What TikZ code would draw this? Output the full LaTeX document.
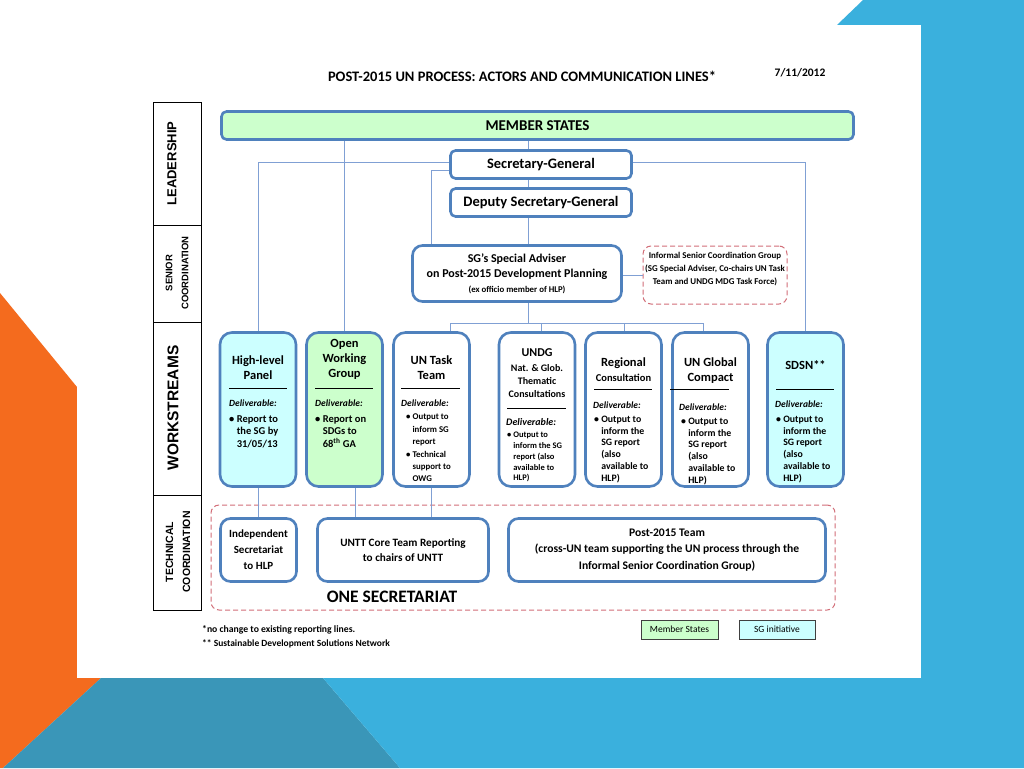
\documentclass[tikz,border=0pt]{standalone}
\usepackage{fontspec}
\setmainfont{Carlito}
\newfontfamily\sidefont{Liberation Sans}
\usetikzlibrary{positioning,calc}
\definecolor{unblue}{RGB}{79,129,189}
\definecolor{linkblue}{RGB}{128,160,212}
\definecolor{msgreen}{RGB}{204,255,204}
\definecolor{sgcyan}{RGB}{204,255,255}
\definecolor{groupred}{RGB}{210,110,120}
\definecolor{slideorange}{RGB}{244,107,30}
\definecolor{slideblue}{RGB}{58,176,221}
\definecolor{slideteal}{RGB}{58,150,184}
\newcommand{\fsz}[2]{\fontsize{#1}{#2}\selectfont}
\newcommand{\bgap}{\phantom{\textbullet\ }}

\begin{document}
\begin{tikzpicture}[x=1pt, y=-1pt,
  box/.style={draw=unblue, line width=2.6pt, fill=white, rounded corners=5pt, inner sep=0pt},
  wbox/.style={box, rounded corners=12pt, minimum width=76pt, minimum height=154pt},
  tbox/.style={box, rounded corners=10pt, minimum height=63pt, align=center},
  link/.style={draw=linkblue, line width=1pt},
  grp/.style={draw=groupred, line width=1pt, dash pattern=on 5pt off 3pt, rounded corners=8pt},
  rule/.style={draw=black, line width=0.8pt},
  hd/.style={font=\fsz{12.5}{15}\bfseries, align=center, inner sep=0pt},
  dlv/.style={font=\fsz{9.5}{11}\bfseries\itshape, anchor=west, inner sep=0pt},
  bul/.style={font=\fsz{10}{12}\bfseries, align=left, anchor=north west, inner sep=0pt},
  side/.style={rotate=90, align=center, inner sep=0pt}
]
  \useasboundingbox (0,0) rectangle (1024,768);

  % Slide background
  \fill[white] (0,0) rectangle (1024,768);
  \fill[slideorange] (0,293) -- (77,387) -- (101,678) -- (3,768) -- (0,768) -- cycle;
  \fill[slideteal] (101,678) -- (323,678) -- (400,768) -- (3,768) -- cycle;
  \fill[slideblue] (863,0) -- (1024,0) -- (1024,768) -- (400,768) -- (323,678) -- (837,25) -- cycle;
  \fill[white] (77,25) rectangle (921,678);

  % Title
  \node[font=\fsz{14.5}{17}\bfseries] (title) at (522,76) {POST-2015 UN PROCESS: ACTORS AND COMMUNICATION LINES*};
  \node[font=\fsz{11.5}{13}\bfseries] (date) at (800,73) {7/11/2012};

  % Side bar
  \draw[line width=1pt] (153,102) rectangle (201,610);
  \foreach \y in {225,322,495}
    \draw[line width=1pt] (153,\y) -- (201,\y);
  \node[side, font=\sidefont\fsz{13}{15}\bfseries] (lead) at (172,163.5) {LEADERSHIP};
  \node[side, font=\sidefont\fsz{9.5}{16}\bfseries] (senior) at (177,273) {SENIOR\\COORDINATION};
  \node[side, font=\sidefont\fsz{15.5}{18}\bfseries] (work) at (173,408) {WORKSTREAMS};
  \node[side, font=\sidefont\fsz{10.5}{17}\bfseries] (tech) at (178,552) {TECHNICAL\\COORDINATION};

  % Leadership
  \node[box, fill=msgreen, minimum width=632pt, minimum height=28pt, font=\fsz{15}{17}\bfseries] (ms) at (537.5,125.5) {MEMBER STATES};
  \node[box, minimum width=181pt, minimum height=28pt, font=\fsz{14.5}{17}\bfseries] (sg) at (541,164.5) {Secretary-General};
  \node[box, minimum width=181pt, minimum height=28pt, font=\fsz{14.5}{17}\bfseries] (dsg) at (541,202.5) {Deputy Secretary-General};

  % Senior coordination
  \node[box, rounded corners=10pt, minimum width=209pt, minimum height=56pt, align=center, font=\fsz{12}{15}\bfseries] (adv) at (517,273.5)
    {SG's Special Adviser\\on Post-2015 Development Planning\\\fsz{8.8}{15}\bfseries(ex officio member of HLP)};
  \node[grp, minimum width=144pt, minimum height=58pt] (isg) at (715,275) {};
  \node[font=\fsz{8.9}{12.7}\bfseries, align=center, inner sep=0pt] (isg-t) at (715,269)
    {Informal Senior Coordination Group\\(SG Special Adviser, Co-chairs UN Task\\Team and UNDG MDG Task Force)};

  % Workstreams
  \node[wbox, fill=sgcyan] (hlp) at (258,409.5) {};
  \node[wbox, fill=msgreen] (owg) at (344.5,409.5) {};
  \node[wbox] (untt) at (431.5,409.5) {};
  \node[wbox] (undg) at (537,409.5) {};
  \node[wbox] (reg) at (623.5,409.5) {};
  \node[wbox] (ugc) at (710.5,409.5) {};
  \node[wbox, fill=sgcyan] (sdsn) at (805.5,409.5) {};

  % High-level Panel
  \node[hd] (hlp-h) at (258,367.5) {High-level\\Panel};
  \draw[rule] (229,388) -- (287,388);
  \node[dlv] (hlp-d) at (229,403) {Deliverable:};
  \node[bul, font=\fsz{10.5}{12.5}\bfseries] (hlp-b) at (229,415) {\textbullet\ Report to\\\bgap the SG by\\\bgap 31/05/13};

  % Open Working Group
  \node[hd] (owg-h) at (344.5,359.5) {Open\\Working\\Group};
  \draw[rule] (315,388) -- (373,388);
  \node[dlv] (owg-d) at (315,403) {Deliverable:};
  \node[bul, font=\fsz{10.5}{12.5}\bfseries] (owg-b) at (315,415) {\textbullet\ Report on\\\bgap SDGs to\\\bgap 68\textsuperscript{th} GA};

  % UN Task Team
  \node[hd] (untt-h) at (431.5,367.5) {UN Task\\Team};
  \draw[rule] (401,388) -- (460,388);
  \node[dlv] (untt-d) at (401,403) {Deliverable:};
  \node[bul, font=\fsz{8.8}{12.4}\bfseries] (untt-b) at (406,414)
    {\textbullet\ Output to\\\bgap inform SG\\\bgap report\\\textbullet\ Technical\\\bgap support to\\\bgap OWG};

  % UNDG
  \node[hd, font=\fsz{12}{14}\bfseries] (undg-h) at (537,353) {UNDG};
  \node[hd, font=\fsz{10}{13}\bfseries] (undg-s) at (537,381) {Nat. \& Glob.\\Thematic\\Consultations};
  \draw[rule] (507,408) -- (566,408);
  \node[dlv, font=\fsz{10}{12}\bfseries\itshape] (undg-d) at (506,422) {Deliverable:};
  \node[bul, font=\fsz{8.5}{10.8}\bfseries] (undg-b) at (507,432)
    {\textbullet\ Output to\\\bgap inform the SG\\\bgap report (also\\\bgap available to\\\bgap HLP)};

  % Regional Consultation
  \node[hd] (reg-h) at (623.5,363) {Regional};
  \node[hd, font=\fsz{10.5}{12}\bfseries] (reg-s) at (623.5,378) {Consultation};
  \draw[rule] (594,389) -- (652,389);
  \node[dlv] (reg-d) at (593,405) {Deliverable:};
  \node[bul, font=\fsz{9.8}{11.8}\bfseries] (reg-b) at (594,415.6)
    {\textbullet\ Output to\\\bgap inform the\\\bgap SG report\\\bgap (also\\\bgap available to\\\bgap HLP)};

  % UN Global Compact
  \node[hd] (ugc-h) at (710.5,370.5) {UN Global\\Compact};
  \draw[rule] (670,389) -- (729,389);
  \node[dlv] (ugc-d) at (679,407) {Deliverable:};
  \node[bul, font=\fsz{9.8}{11.8}\bfseries] (ugc-b) at (681,417.6)
    {\textbullet\ Output to\\\bgap inform the\\\bgap SG report\\\bgap (also\\\bgap available to\\\bgap HLP)};

  % SDSN
  \node[hd] (sdsn-h) at (805.5,365) {SDSN**};
  \draw[rule] (776,389) -- (834,389);
  \node[dlv] (sdsn-d) at (775,404) {Deliverable:};
  \node[bul, font=\fsz{9.8}{11.8}\bfseries] (sdsn-b) at (776,415.6)
    {\textbullet\ Output to\\\bgap inform the\\\bgap SG report\\\bgap (also\\\bgap available to\\\bgap HLP)};

  % Technical coordination
  \node[grp, minimum width=624pt, minimum height=105pt] (onesec) at (523,557.5) {};
  \node[tbox, minimum width=76pt, font=\fsz{11}{16}\bfseries] (indsec) at (258.5,550) {Independent\\Secretariat\\to HLP};
  \node[tbox, minimum width=171pt, font=\fsz{11.2}{15}\bfseries] (core) at (403,550) {UNTT Core Team Reporting\\to chairs of UNTT};
  \node[tbox, minimum width=317pt, font=\fsz{11.6}{16.5}\bfseries] (post) at (667,550)
    {Post-2015 Team\\(cross-UN team supporting the UN process through the\\Informal Senior Coordination Group)};
  \node[font=\fsz{17.5}{20}\bfseries] (onesec-t) at (392,597) {ONE SECRETARIAT};

  % Communication lines
  \coordinate (spine) at (528,0);
  \draw[link] (ms.south -| spine) -- (sg.north -| spine);
  \draw[link] (sg.south -| spine) -- (dsg.north -| spine);
  \draw[link] (dsg.south -| spine) -- (adv.north -| spine);
  \draw[link] (ms.south -| owg.north) -- (owg.north);
  \draw[link] ([yshift=2pt]sg.west) -| (hlp.north);
  \draw[link] ([yshift=2pt]sg.east) -| (sdsn.north);
  \draw[link] ([yshift=-6pt]sg.west) -| (adv.north -| 431,0);
  \draw[link] (adv.east |- isg.west) -- (isg.west);
  \draw[link] (adv.south -| spine) -- (spine |- 0,323);
  \draw[link] (untt.north -| 450,0) |- (703,323) -- (ugc.north -| 703,0);
  \draw[link] (undg.north -| 541,0) -- (541,323);
  \draw[link] (reg.north -| 624,0) -- (624,323);
  \draw[link] (hlp.south) -- (hlp.south |- indsec.north);
  \draw[link] (owg.south -| 355,0) -- (core.north -| 355,0);
  \draw[link] (untt.south) -- (untt.south |- core.north);

  % Notes and legend
  \node[font=\fsz{9.7}{11}\bfseries, anchor=west, inner sep=0pt] (note1) at (202,630) {*no change to existing reporting lines.};
  \node[font=\fsz{9.5}{11}\bfseries, anchor=west, inner sep=0pt] (note2) at (202,644) {** Sustainable Development Solutions Network};
  \node[draw=black!75, line width=0.8pt, fill=msgreen, minimum width=77pt, minimum height=19pt, font=\fsz{9.5}{11}] (leg-ms) at (679.5,629.5) {Member States};
  \node[draw=black!75, line width=0.8pt, fill=sgcyan, minimum width=76pt, minimum height=19pt, font=\fsz{9.5}{11}] (leg-sg) at (777,629.5) {SG initiative};
\end{tikzpicture}
\end{document}
